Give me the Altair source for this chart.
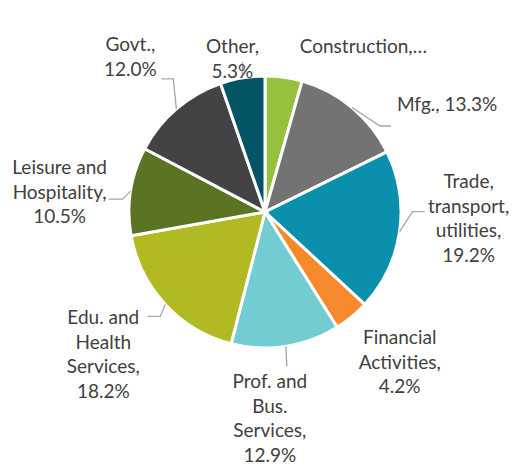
import math
import altair as alt
import pandas as pd

# ---- data ----
categories = ["Construction", "Mfg.", "Trade, transport, utilities", "Financial Activities",
              "Prof. and Bus. Services", "Edu. and Health Services", "Leisure and Hospitality",
              "Govt.", "Other"]
values = [4.4, 13.3, 19.2, 4.2, 12.9, 18.2, 10.5, 12.0, 5.3]
label_texts = ["Construction,\u2026", "Mfg., 13.3%", "Trade,\ntransport,\nutilities,\n19.2%",
               "Financial\nActivities,\n4.2%", "Prof. and\nBus.\nServices,\n12.9%",
               "Edu. and\nHealth\nServices,\n18.2%", "Leisure and\nHospitality,\n10.5%",
               "Govt.,\n12.0%", "Other,\n5.3%"]
colors = ["#95C13D", "#737373", "#0A8FAD", "#F5892C", "#74CCD3", "#B1BA22", "#5A7423",
          "#434345", "#035566"]

# ---- layout (pixels) ----
W, H = 503, 461
CX, CY, R = 257, 204, 136
# offset of the first text line from the slice's outer mid point
label_off = [(16, -30), (45, -2.5), (69, -49.6), (48, 21.2), (-16, 35.6), (-62, 13.5),
             (-71, -23.2), (-46, -63.9), (-10, -30.9)]
label_align = ["left", "left", "center", "center", "center", "center", "center", "center", "center"]
leader = [None, (28, 18.5, 11), (13, -20, 12), None, (1, 20, 0), (-5, 12, -13), (-8, 8, -14),
          (-3, -30, -12), (0, -16, 0)]

total = sum(values)
rows, lab_rows, line_rows = [], [], []
cum = 0.0
for i, (c, v) in enumerate(zip(categories, values)):
    mid = (cum + v / 2) / total * 2 * math.pi
    cum += v
    ex, ey = CX + R * math.sin(mid), CY - R * math.cos(mid)
    rows.append({"cat": c, "value": v, "idx": i})
    lab_rows.append({"cat": c, "text": label_texts[i], "x": ex + label_off[i][0],
                     "y": ey + label_off[i][1], "align": label_align[i]})
    if leader[i] is not None:
        dx, dy, t = leader[i]
        pts = [(ex, ey), (ex + dx, ey + dy), (ex + dx + t, ey + dy)]
        for k, (px, py) in enumerate(pts):
            line_rows.append({"cat": c, "k": k, "x": px, "y": py})

df = pd.DataFrame(rows)
ldf = pd.DataFrame(lab_rows)
lndf = pd.DataFrame(line_rows)

xs = alt.Scale(domain=[0, W], range=[0, W])
ys = alt.Scale(domain=[0, H], range=[0, H])

pie = alt.Chart(df).mark_arc(radius=R, stroke="white", strokeWidth=3).encode(
    theta=alt.Theta("value:Q", stack=True),
    order=alt.Order("idx:Q"),
    color=alt.Color("cat:N", scale=alt.Scale(domain=categories, range=colors), legend=None),
    x=alt.value(CX), y=alt.value(CY),
)

lines = alt.Chart(lndf).mark_line(color="#A6A6A6", strokeWidth=1.3).encode(
    x=alt.X("x:Q", scale=xs, axis=None),
    y=alt.Y("y:Q", scale=ys, axis=None),
    detail="cat:N", order="k:Q",
)

def text_layer(al):
    return alt.Chart(ldf).transform_filter(alt.datum.align == al).mark_text(
        align=al, baseline="middle", lineBreak="\n", font="Lato", fontSize=19,
        lineHeight=24.6, color="#404040",
    ).encode(
        x=alt.X("x:Q", scale=xs, axis=None),
        y=alt.Y("y:Q", scale=ys, axis=None),
        text="text:N",
    )

chart = alt.layer(pie, lines, text_layer("left"), text_layer("center")).properties(
    width=W, height=H, autosize=alt.AutoSizeParams(type="none"), padding=0,
).configure_view(stroke=None)

chart.save("out.html", embed_options={"renderer": "svg", "actions": False})
